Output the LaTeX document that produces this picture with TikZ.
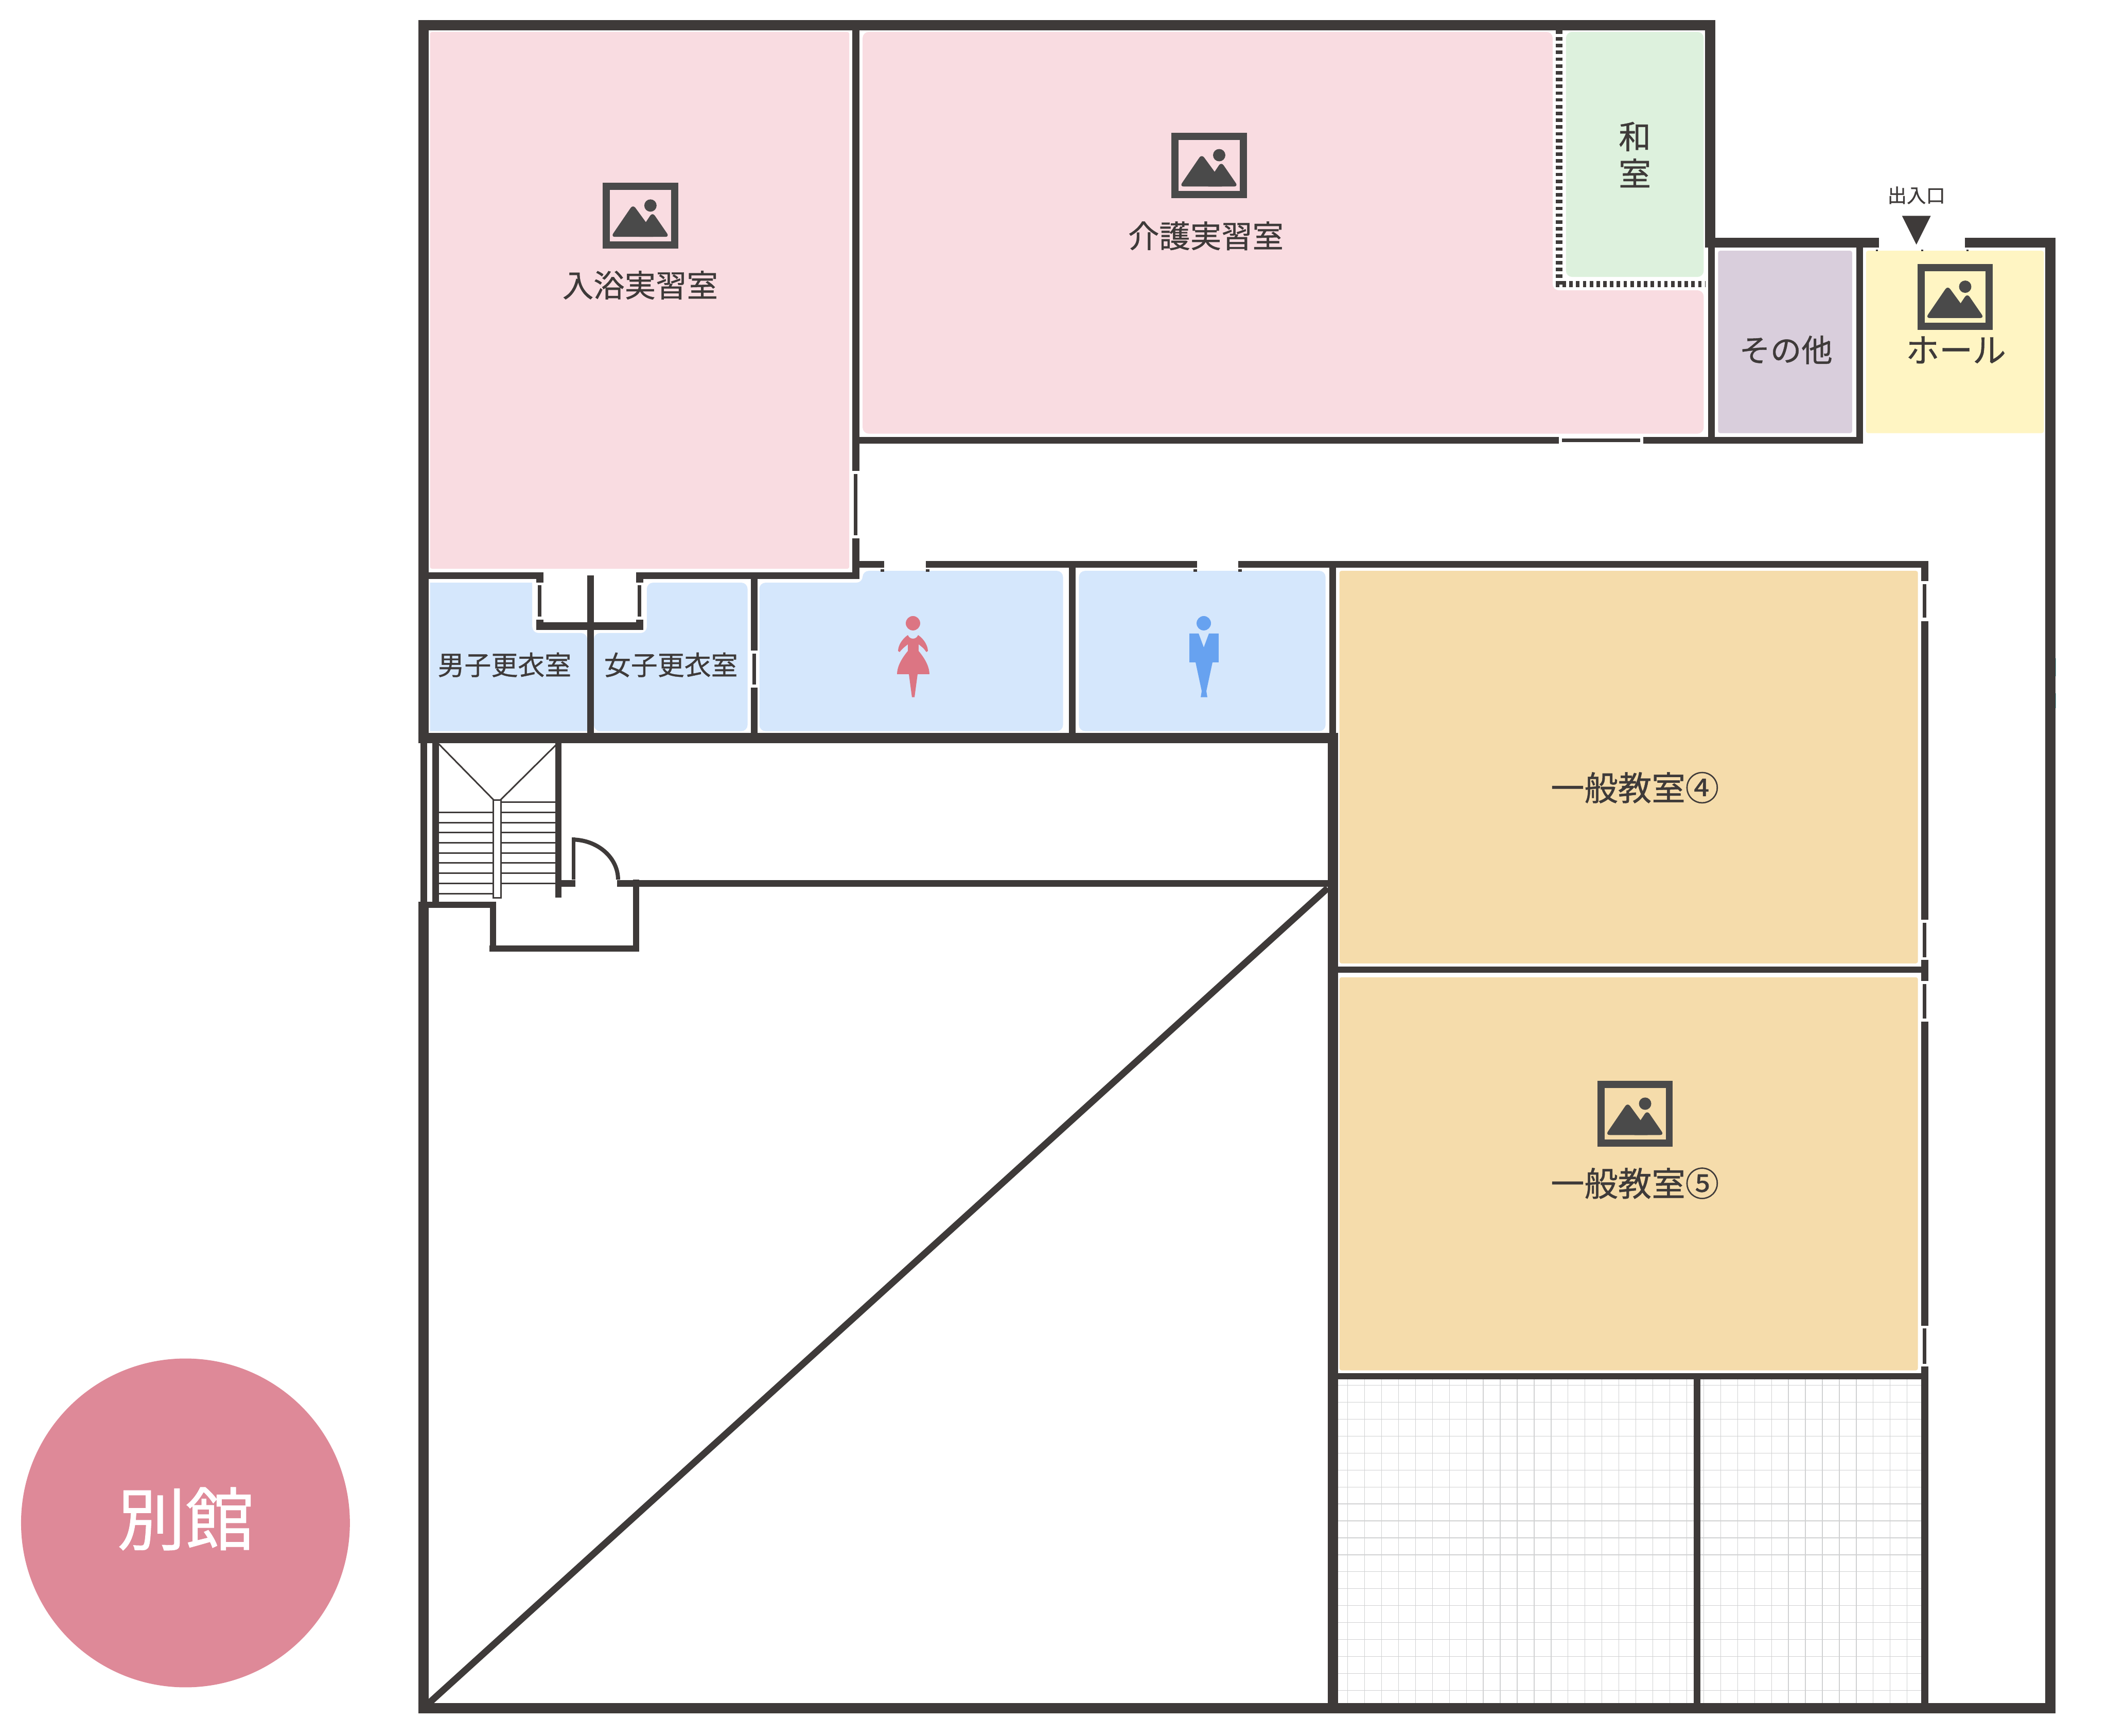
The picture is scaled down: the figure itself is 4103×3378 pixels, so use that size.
\documentclass[tikz,border=0pt]{standalone}
\usepackage{fontspec}
\setmainfont[FakeBold=0.7]{Noto Sans CJK JP}

\definecolor{wallc}{RGB}{62,58,57}
\definecolor{iconc}{RGB}{74,74,74}
\definecolor{pinkroom}{RGB}{249,220,225}
\definecolor{blueroom}{RGB}{213,231,252}
\definecolor{greenroom}{RGB}{221,241,221}
\definecolor{lilacroom}{RGB}{217,206,220}
\definecolor{yellowroom}{RGB}{255,245,195}
\definecolor{orangeroom}{RGB}{245,220,171}
\definecolor{gridc}{RGB}{208,209,210}
\definecolor{annexc}{RGB}{222,137,152}
\definecolor{womanc}{RGB}{220,117,131}
\definecolor{manc}{RGB}{103,162,240}

\tikzset{
  wall/.style={color=wallc, line width=#1*0.2pt},
  dotwall/.style={color=wallc, line width=#1*0.2pt, dash pattern=on 1.35pt off 1.29pt},
  room/.style={fill=#1, rounded corners=2.4pt},
  flatroom/.style={fill=#1, rounded corners=0.8pt},
  gridline/.style={color=gridc, line width=0.25pt},
  roomlabel/.style={text=wallc, inner sep=0pt, font=\fontsize{12.1}{14.4}\selectfont},
  classlabel/.style={text=wallc, inner sep=0pt, font=\fontsize{13.1}{16}\selectfont},
  smalllabel/.style={text=wallc, inner sep=0pt, font=\fontsize{10.4}{12}\selectfont},
}

\newcommand{\photoicon}[2]{%
  \begin{scope}[shift={(#1,#2)}]
    \draw [color=iconc, line width=2.8pt] (7,7) rectangle (140,121) ;
    \fill [iconc, rounded corners=1.6pt] (16,105) -- (59,42) -- (105,105) -- cycle ;
    \fill [iconc, rounded corners=1.6pt] (65,105) -- (97,57) -- (130,105) -- cycle ;
    \fill [iconc] (93,44) circle [radius=12] ;
  \end{scope}}

\begin{document}
\begin{tikzpicture}[x=0.2pt,y=0.2pt,yscale=-1,xscale=1]
\useasboundingbox (0,0) rectangle (4103,3378) ;
\fill [white] (0,0) rectangle (4103,3378) ;

%Rooms
\path [flatroom=pinkroom] (837,62) rectangle (1653,1107) ;
\path [room=pinkroom] (1679,62) -- (3022,62) -- (3022,565) -- (3316,565) -- (3316,844) -- (1679,844) -- cycle ;
\path [room=greenroom] (3048,62) rectangle (3316,539) ;
\path [flatroom=lilacroom] (3344,488) rectangle (3605,843) ;
\path [flatroom=yellowroom] (3632,488) rectangle (3978,843) ;
\path [fill=blueroom, rounded corners=2.4pt] (837,1134) [sharp corners] -- (1036,1134) [rounded corners=2.4pt] -- (1036,1232) -- (1143,1232) [sharp corners] -- (1143,1423) -- (837,1423) -- cycle ;
\path [room=blueroom] (1156,1232) -- (1259,1232) -- (1259,1134) -- (1455,1134) -- (1455,1423) -- (1156,1423) -- cycle ;
\path [room=blueroom] (1478,1134) -- (1679,1134) -- (1679,1111) -- (2069,1111) -- (2069,1423) -- (1478,1423) -- cycle ;
\path [room=blueroom] (2100,1111) rectangle (2580,1423) ;
\path [flatroom=orangeroom] (2607,1111) rectangle (3733,1875) ;
\path [flatroom=orangeroom] (2607,1902) rectangle (3733,2667) ;

%Floor grid
\foreach \x in {2623,2656,...,3739} {
  \draw [gridline] (\x,2684) -- (\x,3315) ;
}
\foreach \y in {2696,2729,...,3315} {
  \draw [gridline] (2604,\y) -- (3739,\y) ;
}

%Outer walls
\draw [wall=20]    (824,39) -- (824,1446) ;
\draw [wall=20]    (814,49) -- (3339,49) ;
\draw [wall=20]    (3329,39) -- (3329,482) ;
\draw [wall=19]    (3319,472.5) -- (3657,472.5) ;
\draw [wall=19]    (3824,472.5) -- (4001,472.5) ;
\draw [wall=20]    (3991,463) -- (3991,3335) ;
\draw [wall=20]    (814,3325) -- (4001,3325) ;
\draw [wall=20]    (824,1760) -- (824,3335) ;
\draw [wall=13]    (834,3315.5) -- (2584,1728.5) ;

%Walls of the practice rooms
\draw [wall=14]    (1666,59) -- (1666,917) ;
\draw [wall=7]     (1665.5,923) -- (1665.5,1042) ;
\draw [wall=14]    (1666,1048) -- (1666,1127) ;
\draw [wall=13]    (1673,856.5) -- (3034,856.5) ;
\draw [wall=6.5]   (3040,857) -- (3192,857) ;
\draw [wall=13]    (3198,856.5) -- (3626,856.5) ;
\draw [wall=13]    (3331,482) -- (3331,863) ;
\draw [wall=13]    (3619.5,482) -- (3619.5,863) ;
\draw [dotwall=13] (3034.5,59) -- (3034.5,559) ;
\draw [dotwall=12] (3028,553) -- (3319,553) ;

%Walls of the changing rooms and toilets
\draw [wall=20]    (814,1436) -- (2604,1436) ;
\draw [wall=13]    (834,1120.5) -- (1058,1120.5) ;
\draw [wall=13]    (1238,1120.5) -- (1673,1120.5) ;
\draw [wall=13]    (1149.5,1120) -- (1149.5,1426) ;
\draw [wall=14]    (1051,1127) -- (1051,1134) ;
\draw [wall=7]     (1050.5,1139) -- (1050.5,1200) ;
\draw [wall=14]    (1051,1206) -- (1051,1226) ;
\draw [wall=15]    (1044,1218.5) -- (1252,1218.5) ;
\draw [wall=14]    (1245,1127) -- (1245,1134) ;
\draw [wall=7]     (1245,1139) -- (1245,1200) ;
\draw [wall=14]    (1245,1206) -- (1245,1226) ;
\draw [wall=13]    (1467.5,1120) -- (1467.5,1266) ;
\draw [wall=7]     (1467.5,1272) -- (1467.5,1332) ;
\draw [wall=13]    (1467.5,1338) -- (1467.5,1426) ;
\draw [wall=13]    (1673,1098.5) -- (1721,1098.5) ;
\draw [wall=13]    (1802,1098.5) -- (2330,1098.5) ;
\draw [wall=13]    (2410,1098.5) -- (3753,1098.5) ;
\draw [wall=13]    (2087,1105) -- (2087,1426) ;
\draw [wall=13]    (2593.5,1105) -- (2593.5,1426) ;

%Small door marks
\foreach \x/\xx in {1714/1721,1802/1809,2323/2330,2410/2417} {
  \draw [wall=5] (\x,1110.5) -- (\xx,1110.5) ;
}
\foreach \x in {3651,3739,3827} {
  \draw [wall=3] (\x,487) -- (\x+4,487) ;
}

%Walls of the classrooms
\draw [wall=20]    (2594,1426) -- (2594,3335) ;
\draw [wall=14]    (3746,1092) -- (3746,1131) ;
\draw [wall=6.5]   (3746,1137) -- (3746,1202) ;
\draw [wall=14]    (3746,1209) -- (3746,1790) ;
\draw [wall=6.5]   (3746,1796) -- (3746,1863) ;
\draw [wall=14]    (3746,1868) -- (3746,1909) ;
\draw [wall=6.5]   (3746,1915) -- (3746,1982) ;
\draw [wall=14]    (3746,1988) -- (3746,2580) ;
\draw [wall=6.5]   (3746,2585) -- (3746,2654) ;
\draw [wall=14]    (3746,2659) -- (3746,3315) ;
\draw [wall=12]    (2604,1887) -- (3739,1887) ;
\draw [wall=12]    (2604,2678.5) -- (3739,2678.5) ;
\draw [wall=13]    (3303.5,2684) -- (3303.5,3315) ;
\draw [color=teal!55, line width=0.3pt] (4001.5,1281) -- (4001.5,1316) ;
\draw [color=teal!55, line width=0.3pt] (4001.5,1349) -- (4001.5,1378) ;

%Stairs and lobby
\draw [wall=13]    (824.5,1446) -- (824.5,1757) ;
\draw [wall=13]    (847.5,1446) -- (847.5,1755) ;
\draw [wall=12]    (1087,1446) -- (1087,1747) ;
\draw [wall=12]    (814,1761) -- (966,1761) ;
\draw [wall=12]    (959.5,1755) -- (959.5,1852) ;
\draw [wall=12]    (953,1846) -- (1244,1846) ;
\draw [wall=12]    (1238,1712) -- (1238,1852) ;
\draw [wall=13]    (1201,1719) -- (2584,1719) ;
\draw [wall=13]    (1093,1719) -- (1120,1719) ;
\draw [wall=7]     (1116.5,1712) -- (1116.5,1630) ;
\draw [wall=8]     (1113,1634) arc [start angle=-90, end angle=0, x radius=90, y radius=78] ;
\draw [wall=3]     (960,1557) rectangle (975,1747) ;
\draw [wall=3]     (854,1448) -- (961,1557) ;
\draw [wall=3]     (1082,1450) -- (974,1557) ;
\foreach \y in {1581,1601,1620,1640,1660,1679,1699,1719,1739} {
  \draw [wall=3] (854,\y) -- (960,\y) ;
}
\foreach \y in {1561,1581,1601,1620,1640,1660,1679,1699,1719} {
  \draw [wall=3] (975,\y) -- (1081,\y) ;
}

%Entrance
\node [smalllabel, font=\fontsize{7.5}{9}\selectfont] (entrance) at (3730,380) {出入口} ;
\fill [wallc] (3702,420) -- (3758,420) -- (3730,476) -- cycle ;

%Toilet figures
\fill [womanc] (1777,1213) circle [radius=14] ;
\fill [womanc] (1767,1236) .. controls (1769,1240) and (1772,1243) .. (1777,1243) .. controls (1782,1243) and (1785,1240) .. (1787,1236) .. controls (1800,1245) and (1806,1258) .. (1806,1267) -- (1803,1269) .. controls (1798,1262) .. (1788,1254) -- (1788,1267) .. controls (1803,1285) and (1809,1300) .. (1809,1312) -- (1786,1312) -- (1780,1357) -- (1775,1357) -- (1769,1312) -- (1746,1312) .. controls (1746,1300) and (1752,1285) .. (1767,1267) -- (1767,1254) .. controls (1757,1262) .. (1751,1269) -- (1748,1267) .. controls (1748,1258) and (1754,1245) .. (1767,1236) -- cycle ;
\fill [manc] (2343,1213) circle [radius=14] ;
\fill [manc] (2315,1233) -- (2333,1233) -- (2343,1260) -- (2353,1233) -- (2372,1233) -- (2372,1289) -- (2360,1289) -- (2348,1345) -- (2350,1357) -- (2337,1357) -- (2339,1345) -- (2327,1289) -- (2315,1289) -- cycle ;

%Photo icons
\photoicon{1173}{356}
\photoicon{2280}{258}
\photoicon{3732}{514}
\photoicon{3109}{2104}

%Labels
\node [roomlabel] (bath) at (1246,555) {入浴実習室} ;
\node [roomlabel] (care) at (2347,459) {介護実習室} ;
\node [roomlabel, align=center, font=\fontsize{12.6}{14.4}\selectfont] (washitsu) at (3182,301) {和\\室} ;
\node [roomlabel] (other) at (3476,681) {その他} ;
\node [roomlabel, font=\fontsize{13}{16}\selectfont] (hall) at (3807,681) {ホール} ;
\node [smalllabel] (menroom) at (982,1294) {男子更衣室} ;
\node [smalllabel] (womenroom) at (1306,1294) {女子更衣室} ;
\node [classlabel] (classfour) at (3182,1533) {一般教室④} ;
\node [classlabel] (classfive) at (3182,2303) {一般教室⑤} ;

%Annex
\node [circle, fill=annexc, minimum size=128pt, inner sep=0pt] (annex) at (361,2964) {} ;
\node [text=white, inner sep=0pt, font=\fontsize{26.6}{30}\selectfont] (annexname) at (361,2956) {別館} ;
\end{tikzpicture}
\end{document}
